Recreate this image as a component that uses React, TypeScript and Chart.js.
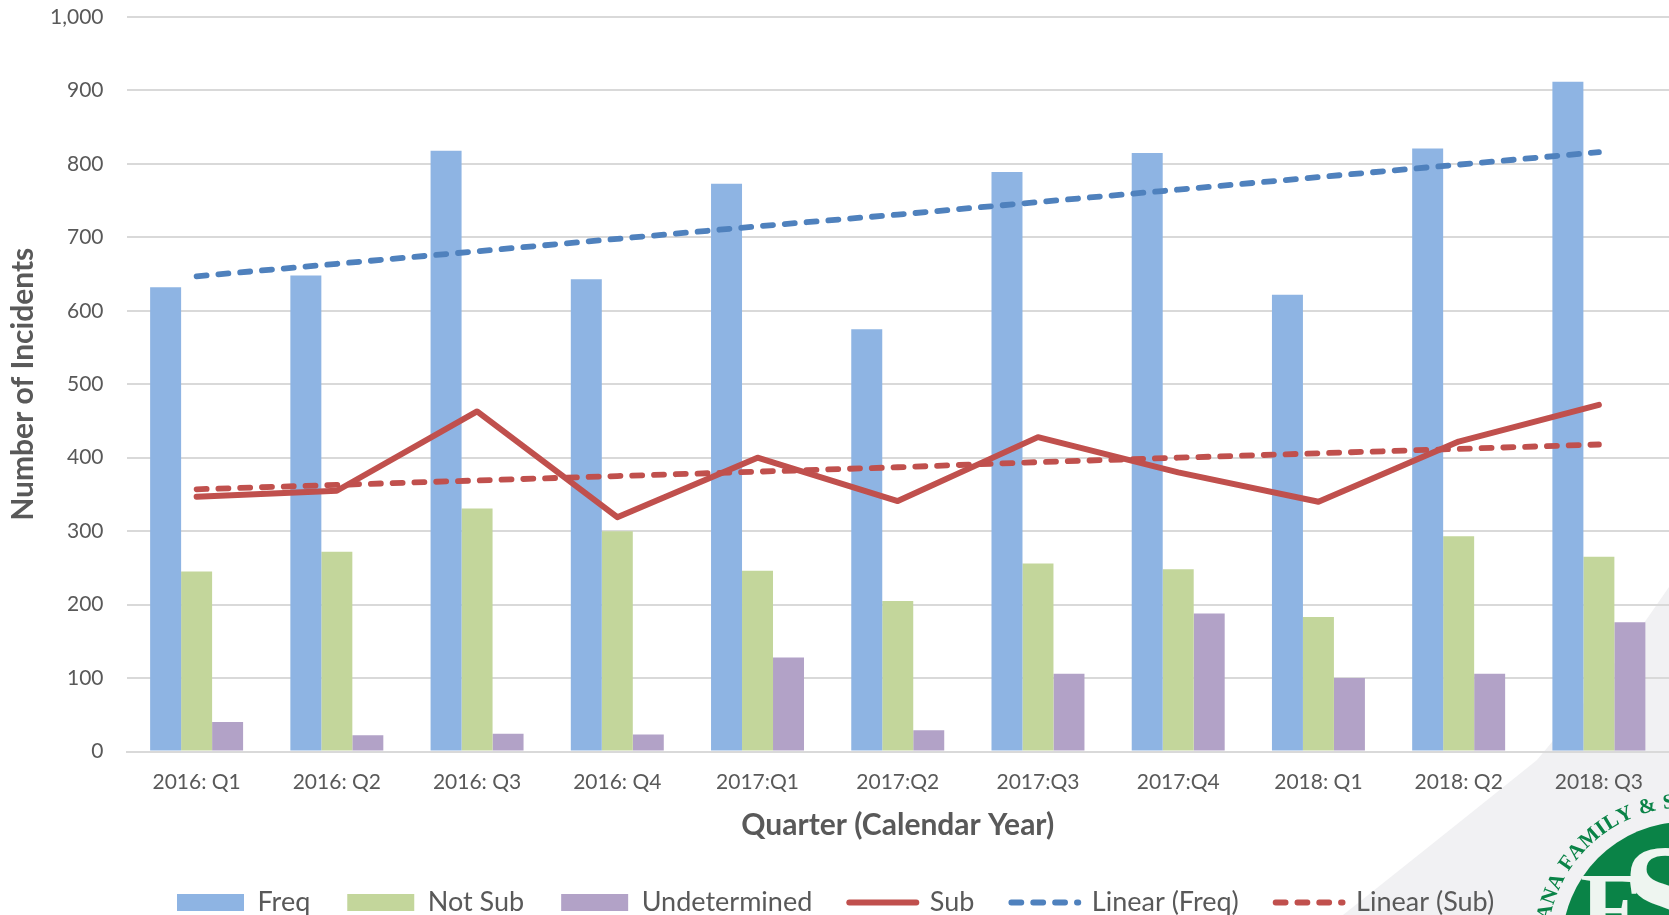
import React, { useEffect, useRef } from "react";
import { Chart, registerables } from "chart.js";

Chart.register(...registerables);

const categories = ["2016: Q1","2016: Q2","2016: Q3","2016: Q4","2017:Q1","2017:Q2","2017:Q3","2017:Q4","2018: Q1","2018: Q2","2018: Q3"];
const freq = [632,648,818,643,773,575,789,815,622,821,912];
const notSub = [245,272,331,300,246,205,256,248,183,293,265];
const undetermined = [40,22,24,23,128,29,106,188,100,106,176];
const sub = [347,355,463,319,400,341,428,380,340,422,472];
const linearFreq = [647,664,681,698,715,731,748,765,782,799,816];
const linearSub = [357,363,369,375,381,387,394,400,406,412,418];

const FONT = "Lato, 'Open Sans', sans-serif";
const GREY = "#595959";
const LEGEND_PADDING = 37;

const backdrop = {
  id: "backdrop",
  beforeLayout(chart: any) {
    const l = chart.legend;
    if (l && !l.__patched) {
      const fit = l.fit;
      l.fit = function () {
        fit.call(this);
        this.height = 0;
      };
      l.__patched = true;
    }
  },
  afterLayout(chart: any) {
    const l = chart.legend;
    l.left = 177 - LEGEND_PADDING;
    l.right = 1669;
    l.top = 902.5 - 13.5 - LEGEND_PADDING;
    l.bottom = 915;
  },
  beforeDraw(chart: any) {
    const c = chart.ctx;
    c.save();
    c.fillStyle = "#ffffff";
    c.fillRect(0, 0, chart.width, chart.height);
    c.fillStyle = "#f1f1f3";
    c.beginPath();
    c.moveTo(1669, 587);
    c.quadraticCurveTo(1610, 675, 1537, 760);
    c.quadraticCurveTo(1450, 830, 1343, 915);
    c.lineTo(1669, 915);
    c.closePath();
    c.fill();
    c.restore();
  },
  afterDraw(chart: any) {
    const c = chart.ctx;
    c.save();
    const cx = 1685, cy = 945, r = 123;
    c.fillStyle = "#0a8347";
    c.beginPath();
    c.arc(cx, cy, r, 0, Math.PI * 2);
    c.fill();
    c.fillStyle = "#eef5f0";
    c.textAlign = "left";
    c.textBaseline = "alphabetic";
    c.font = "bold 100px 'Liberation Serif', serif";
    c.fillText("F", 1580, 941);
    c.font = "bold 150px 'Liberation Serif', serif";
    c.fillText("S", 1622, 948);
    c.fillStyle = "#0a8347";
    c.textAlign = "center";
    c.textBaseline = "middle";
    c.font = "bold 21px 'Liberation Serif', serif";
    const text = "IANA FAMILY & S";
    const R = 143;
    let a = -3.03;
    [...text].forEach((ch) => {
      const w = c.measureText(ch).width + 1;
      a += w / 2 / R;
      c.save();
      c.translate(cx + Math.cos(a) * R, cy + Math.sin(a) * R);
      c.rotate(a + Math.PI / 2);
      c.fillText(ch, 0, 0);
      c.restore();
      a += w / 2 / R;
    });
    c.restore();
  },
};

export default function App() {
  const ref = useRef<HTMLCanvasElement>(null);
  useEffect(() => {
    document.body.style.margin = "0";
    const bar = (label: string, data: number[], color: string) => ({
      type: "bar" as const, label, data, backgroundColor: color, order: 2,
      categoryPercentage: 0.663, barPercentage: 1, borderWidth: 0, pointStyle: "rect",
    });
    const line = (label: string, data: number[], color: string, dash: number[], width: number) => ({
      type: "line" as const, label, data, borderColor: color, backgroundColor: color,
      borderWidth: width, borderDash: dash, pointRadius: 0, tension: 0, order: 1,
      borderCapStyle: "round" as CanvasLineCap, borderJoinStyle: "round", fill: false, pointStyle: "line",
    });
    const chart = new Chart(ref.current!, {
      data: {
        labels: categories,
        datasets: [
          bar("Freq", freq, "#8eb4e3"),
          bar("Not Sub", notSub, "#c3d69b"),
          bar("Undetermined", undetermined, "#b2a2c7"),
          line("Sub", sub, "#c0504d", [], 6),
          line("Linear (Freq)", linearFreq, "#4f81bd", [10, 11.87], 5.8),
          line("Linear (Sub)", linearSub, "#c0504d", [10, 11.79], 5.8),
        ],
      } as any,
      plugins: [backdrop],
      options: {
        responsive: false,
        animation: false,
        layout: { padding: { top: 17, right: 0, bottom: 0, left: 0 } },
        plugins: {
          tooltip: { enabled: false },
          legend: {
            position: "bottom",
            align: "start",
            labels: {
              font: { family: FONT, size: 27 },
              color: GREY,
              boxHeight: 17,
              usePointStyle: true,
              pointStyleWidth: 67,
              padding: LEGEND_PADDING,
              sort: (a: any, b: any) => a.datasetIndex - b.datasetIndex,
              generateLabels(c: any) {
                const items = Chart.defaults.plugins.legend.labels.generateLabels(c);
                return items.map((it: any) => {
                  const ds = c.data.datasets[it.datasetIndex];
                  if (ds.type !== "line") return { ...it, lineWidth: 0 };
                  return {
                    ...it,
                    lineDash: ds.borderDash,
                    lineCap: ds.borderCapStyle,
                    lineWidth: ds.borderWidth,
                    strokeStyle: ds.borderColor,
                  };
                });
              },
            },
          },
        },
        scales: {
          x: {
            afterFit(s: any) { s.height = 163.5; s.paddingLeft = 0; s.paddingRight = 0; },
            grid: { display: false },
            border: { color: "#d9d9d9", width: 2 },
            ticks: { color: GREY, font: { family: FONT, size: 21 }, maxRotation: 0, padding: 10 },
            title: { display: true, text: "Quarter (Calendar Year)", color: GREY, font: { family: FONT, size: 30, weight: "bold" }, padding: { top: 0, bottom: 72 } },
          },
          y: {
            min: 0, max: 1000,
            afterFit(s: any) { s.width = 126.5; s.paddingTop = 0; s.paddingBottom = 0; },
            grid: { color: "#d9d9d9", lineWidth: 2, drawTicks: false },
            border: { display: false },
            ticks: {
              stepSize: 100, color: GREY, padding: 23,
              font: { family: FONT, size: 21 },
              callback: (v: any) => Number(v).toLocaleString("en-US"),
            },
            title: { display: true, text: "Number of Incidents", color: GREY, font: { family: FONT, size: 30, weight: "bold" }, padding: { top: 5, bottom: 0 } },
          },
        },
      },
    } as any);
    return () => chart.destroy();
  }, []);
  return <canvas ref={ref} width={1669} height={915} style={{ display: "block" }} />;
}
